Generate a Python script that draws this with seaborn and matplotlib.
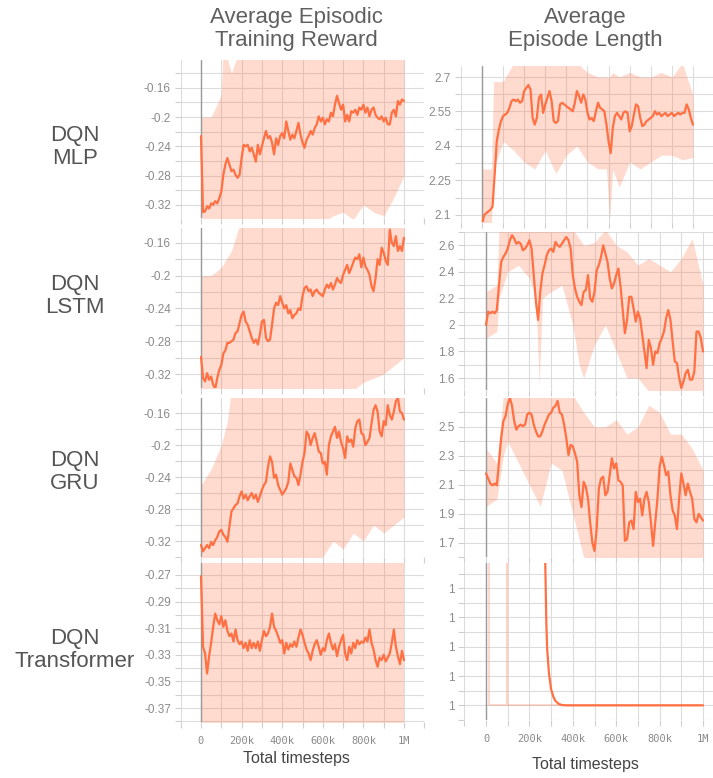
import numpy as np
import matplotlib
matplotlib.use("Agg")
import matplotlib.pyplot as plt
from matplotlib.ticker import MultipleLocator, FixedLocator, FuncFormatter
import seaborn as sns

# ---------------------------------------------------------------- data
STEPS = np.arange(0, 1_000_001, 10_000)   # logged timesteps (every 10k)

MLP_REWARD = [
    -0.226, -0.33, -0.329, -0.322, -0.325, -0.318, -0.32, -0.315, -0.318, -0.311,
    -0.302, -0.279, -0.265, -0.256, -0.265, -0.274, -0.272, -0.279, -0.283, -0.279,
    -0.256, -0.238, -0.24, -0.238, -0.247, -0.242, -0.251, -0.261, -0.238, -0.251,
    -0.24, -0.229, -0.219, -0.229, -0.226, -0.235, -0.251, -0.229, -0.238, -0.226,
    -0.222, -0.229, -0.206, -0.219, -0.231, -0.224, -0.229, -0.219, -0.208, -0.224,
    -0.235, -0.242, -0.231, -0.226, -0.219, -0.224, -0.215, -0.21, -0.199, -0.206,
    -0.201, -0.21, -0.203, -0.206, -0.194, -0.199, -0.183, -0.171, -0.181, -0.19,
    -0.183, -0.206, -0.197, -0.206, -0.192, -0.194, -0.19, -0.197, -0.187, -0.19,
    -0.183, -0.194, -0.187, -0.199, -0.19, -0.187, -0.197, -0.201, -0.203, -0.199,
    -0.206, -0.201, -0.21, -0.21, -0.194, -0.19, -0.199, -0.178, -0.183, -0.176,
    -0.178,
]
LSTM_REWARD = [
    -0.299, -0.325, -0.329, -0.319, -0.327, -0.323, -0.333, -0.338, -0.325, -0.315,
    -0.309, -0.295, -0.291, -0.282, -0.282, -0.28, -0.278, -0.27, -0.268, -0.258,
    -0.248, -0.244, -0.256, -0.26, -0.268, -0.276, -0.282, -0.278, -0.284, -0.272,
    -0.256, -0.254, -0.276, -0.28, -0.278, -0.26, -0.24, -0.233, -0.236, -0.225,
    -0.233, -0.24, -0.236, -0.246, -0.242, -0.252, -0.248, -0.246, -0.24, -0.242,
    -0.225, -0.215, -0.213, -0.219, -0.217, -0.225, -0.219, -0.217, -0.221, -0.223,
    -0.225, -0.217, -0.211, -0.215, -0.209, -0.217, -0.211, -0.203, -0.207, -0.209,
    -0.199, -0.193, -0.187, -0.197, -0.191, -0.184, -0.178, -0.18, -0.174, -0.19,
    -0.178, -0.189, -0.193, -0.199, -0.213, -0.219, -0.203, -0.18, -0.187, -0.166,
    -0.172, -0.182, -0.187, -0.144, -0.16, -0.164, -0.152, -0.17, -0.164, -0.17,
    -0.154,
]
GRU_REWARD = [
    -0.325, -0.333, -0.329, -0.325, -0.329, -0.321, -0.325, -0.319, -0.315, -0.308,
    -0.306, -0.312, -0.315, -0.321, -0.302, -0.283, -0.279, -0.275, -0.273, -0.264,
    -0.258, -0.267, -0.262, -0.269, -0.264, -0.26, -0.267, -0.262, -0.271, -0.264,
    -0.256, -0.25, -0.246, -0.227, -0.214, -0.221, -0.241, -0.237, -0.25, -0.256,
    -0.262, -0.258, -0.254, -0.246, -0.223, -0.231, -0.239, -0.241, -0.25, -0.237,
    -0.221, -0.21, -0.183, -0.187, -0.2, -0.191, -0.185, -0.196, -0.208, -0.21,
    -0.223, -0.221, -0.237, -0.2, -0.189, -0.183, -0.177, -0.191, -0.183, -0.196,
    -0.204, -0.216, -0.189, -0.196, -0.193, -0.202, -0.179, -0.17, -0.168, -0.185,
    -0.187, -0.2, -0.196, -0.191, -0.173, -0.156, -0.15, -0.158, -0.183, -0.189,
    -0.17, -0.175, -0.15, -0.162, -0.168, -0.158, -0.145, -0.141, -0.158, -0.16,
    -0.168,
]
TRANSFORMER_REWARD = [
    -0.271, -0.324, -0.329, -0.344, -0.331, -0.321, -0.309, -0.299, -0.304, -0.307,
    -0.301, -0.309, -0.304, -0.312, -0.316, -0.314, -0.32, -0.311, -0.319, -0.322,
    -0.32, -0.325, -0.321, -0.327, -0.319, -0.325, -0.321, -0.325, -0.32, -0.327,
    -0.319, -0.312, -0.316, -0.314, -0.309, -0.299, -0.309, -0.312, -0.316, -0.321,
    -0.319, -0.329, -0.321, -0.326, -0.322, -0.324, -0.32, -0.324, -0.317, -0.311,
    -0.315, -0.321, -0.326, -0.329, -0.334, -0.327, -0.322, -0.319, -0.324, -0.33,
    -0.325, -0.327, -0.319, -0.314, -0.321, -0.326, -0.322, -0.331, -0.324, -0.319,
    -0.315, -0.329, -0.334, -0.324, -0.329, -0.321, -0.325, -0.319, -0.322, -0.32,
    -0.321, -0.317, -0.32, -0.311, -0.321, -0.326, -0.334, -0.339, -0.332, -0.334,
    -0.33, -0.335, -0.332, -0.329, -0.321, -0.311, -0.324, -0.331, -0.337, -0.327,
    -0.334,
]
MLP_LENGTH = [
    2.056, 2.1, 2.107, 2.115, 2.122, 2.136, 2.275, 2.42, 2.471, 2.508,
    2.53, 2.537, 2.544, 2.566, 2.595, 2.602, 2.595, 2.602, 2.588, 2.595,
    2.639, 2.653, 2.665, 2.646, 2.522, 2.493, 2.522, 2.61, 2.624, 2.544,
    2.581, 2.61, 2.639, 2.595, 2.508, 2.5, 2.508, 2.581, 2.588, 2.581,
    2.573, 2.566, 2.559, 2.551, 2.588, 2.639, 2.617, 2.588, 2.624, 2.602,
    2.544, 2.515, 2.522, 2.508, 2.551, 2.588, 2.566, 2.559, 2.551, 2.493,
    2.42, 2.369, 2.479, 2.53, 2.544, 2.53, 2.515, 2.544, 2.551, 2.544,
    2.464, 2.486, 2.537, 2.581, 2.573, 2.522, 2.486, 2.493, 2.508, 2.515,
    2.522, 2.53, 2.551, 2.537, 2.544, 2.53, 2.537, 2.544, 2.53, 2.537,
    2.544, 2.53, 2.537, 2.544, 2.537, 2.544, 2.544, 2.581, 2.559, 2.522,
    2.493,
]
LSTM_LENGTH = [
    2.0, 2.1, 2.088, 2.1, 2.088, 2.112, 2.3, 2.475, 2.512, 2.537,
    2.575, 2.638, 2.675, 2.65, 2.612, 2.625, 2.612, 2.562, 2.575, 2.6,
    2.638, 2.575, 2.375, 2.175, 2.038, 2.25, 2.388, 2.45, 2.525, 2.562,
    2.575, 2.55, 2.625, 2.6, 2.588, 2.612, 2.638, 2.662, 2.638, 2.575,
    2.375, 2.275, 2.212, 2.175, 2.15, 2.25, 2.262, 2.375, 2.2, 2.175,
    2.25, 2.412, 2.45, 2.512, 2.6, 2.537, 2.475, 2.35, 2.275, 2.312,
    2.375, 2.425, 2.288, 2.112, 1.938, 2.038, 2.212, 2.212, 2.125, 2.025,
    2.1, 2.05, 1.925, 1.8, 1.675, 1.888, 1.825, 1.7, 1.8, 1.788,
    1.862, 1.9, 1.95, 2.05, 2.112, 2.038, 1.875, 1.725, 1.712, 1.6,
    1.525, 1.575, 1.638, 1.662, 1.588, 1.588, 1.65, 1.95, 1.95, 1.9,
    1.8,
]
GRU_LENGTH = [
    2.178, 2.143, 2.108, 2.096, 2.108, 2.096, 2.26, 2.423, 2.54, 2.575,
    2.656, 2.703, 2.645, 2.54, 2.481, 2.505, 2.516, 2.505, 2.516, 2.586,
    2.598, 2.586, 2.516, 2.47, 2.435, 2.435, 2.47, 2.516, 2.551, 2.586,
    2.598, 2.633, 2.645, 2.68, 2.598, 2.586, 2.516, 2.423, 2.306, 2.376,
    2.365, 2.318, 2.26, 2.027, 1.945, 2.12, 2.085, 2.003, 1.84, 1.7,
    1.642, 1.793, 2.073, 2.143, 2.155, 2.027, 2.05, 2.166, 2.283, 2.213,
    2.248, 2.131, 2.12, 2.096, 1.712, 1.723, 1.84, 1.852, 1.793, 2.05,
    1.98, 2.003, 1.887, 2.003, 2.05, 1.98, 1.84, 1.677, 1.84, 2.003,
    2.225, 2.295, 2.236, 2.166, 2.19, 2.027, 1.922, 1.887, 1.793, 2.003,
    2.178, 2.108, 2.027, 2.108, 2.05, 2.003, 1.863, 1.84, 1.898, 1.875,
    1.852,
]
# transformer episode length: smoothed curve collapses onto 1
TRANSFORMER_LENGTH_X = [265000, 273000, 278000, 282000, 290000, 300000, 310000,
                        320000, 335000, 350000, 370000, 1000000]
TRANSFORMER_LENGTH = [1.0008, 1.00049, 1.00028, 1.00019, 1.00011, 1.000055, 1.00003,
                      1.000015, 1.000005, 1.000001, 1.0, 1.0]
TRANSFORMER_LENGTH_RAW_X = [0, 15000, 15000, 95000, 95000, 97000, 97000, 1000000]
TRANSFORMER_LENGTH_RAW = [1.002, 1.002, 1.0, 1.0, 1.002, 1.002, 1.0, 1.0]

# spread of the raw (unsmoothed) curves: lower / upper envelopes
MLP_REWARD_BAND_X = [0, 50e3, 100e3, 110e3, 150e3, 200e3, 600e3, 650e3, 700e3,
                     750e3, 800e3, 850e3, 900e3, 950e3, 1e6]
MLP_REWARD_HI = [-0.2, -0.2, -0.17, -0.1, -0.14, -0.1, -0.1, -0.1, -0.1,
                 -0.1, -0.1, -0.1, -0.1, -0.1, -0.1]
MLP_REWARD_LO = [-0.35, -0.35, -0.35, -0.35, -0.35, -0.35, -0.345, -0.335, -0.33,
                 -0.34, -0.32, -0.33, -0.335, -0.31, -0.28]

LSTM_REWARD_BAND_X = [0, 50e3, 100e3, 150e3, 200e3, 250e3, 700e3, 750e3, 800e3,
                      850e3, 900e3, 950e3, 1e6]
LSTM_REWARD_HI = [-0.2, -0.2, -0.19, -0.17, -0.13, -0.13, -0.13, -0.13, -0.13,
                  -0.13, -0.13, -0.13, -0.13]
LSTM_REWARD_LO = [-0.35, -0.35, -0.35, -0.35, -0.35, -0.35, -0.35, -0.34, -0.33,
                  -0.325, -0.32, -0.31, -0.3]

GRU_REWARD_BAND_X = [0, 50e3, 100e3, 130e3, 150e3, 550e3, 600e3, 650e3, 700e3,
                     750e3, 800e3, 850e3, 900e3, 950e3, 1e6]
GRU_REWARD_HI = [-0.25, -0.23, -0.2, -0.17, -0.13, -0.13, -0.13, -0.13, -0.13,
                 -0.13, -0.13, -0.13, -0.13, -0.13, -0.13]
GRU_REWARD_LO = [-0.35, -0.35, -0.35, -0.35, -0.35, -0.35, -0.34, -0.32, -0.33,
                 -0.31, -0.32, -0.3, -0.31, -0.3, -0.29]

TRANSFORMER_REWARD_BAND_X = [0, 1e6]
TRANSFORMER_REWARD_HI = [-0.25, -0.25]
TRANSFORMER_REWARD_LO = [-0.39, -0.39]

MLP_LENGTH_BAND_X = [0, 45e3, 55e3, 100e3, 150e3, 200e3, 250e3, 300e3, 350e3, 400e3,
                     450e3, 500e3, 550e3, 590e3, 605e3, 620e3, 650e3, 700e3, 750e3,
                     800e3, 850e3, 900e3, 950e3, 1e6]
MLP_LENGTH_HI = [2.3, 2.3, 2.68, 2.68, 2.76, 2.76, 2.76, 2.76, 2.76, 2.76, 2.76, 2.72,
                 2.70, 2.70, 2.70, 2.72, 2.70, 2.72, 2.70, 2.70, 2.72, 2.70, 2.76, 2.62]
MLP_LENGTH_LO = [2.06, 2.06, 2.3, 2.42, 2.38, 2.33, 2.3, 2.38, 2.28, 2.36, 2.4, 2.33,
                 2.3, 2.3, 2.08, 2.3, 2.22, 2.33, 2.3, 2.33, 2.36, 2.36, 2.34, 2.35]

LSTM_LENGTH_BAND_X = [0, 50e3, 60e3, 100e3, 150e3, 200e3, 230e3, 245e3, 260e3, 300e3,
                      350e3, 400e3, 430e3, 450e3, 500e3, 550e3, 600e3, 650e3, 700e3,
                      750e3, 800e3, 850e3, 900e3, 950e3, 1e6]
LSTM_LENGTH_HI = [2.25, 2.3, 2.72, 2.72, 2.72, 2.72, 2.72, 2.72, 2.72, 2.72,
                  2.72, 2.72, 2.65, 2.6, 2.62, 2.72, 2.6, 2.55, 2.45,
                  2.5, 2.45, 2.4, 2.5, 2.65, 2.3]
LSTM_LENGTH_LO = [1.9, 1.95, 2.2, 2.4, 2.45, 2.35, 2.2, 1.55, 2.2, 2.25,
                  2.3, 2.0, 1.7, 1.6, 1.85, 2.0, 1.8, 1.6, 1.6,
                  1.5, 1.5, 1.5, 1.5, 1.5, 1.5]

GRU_LENGTH_BAND_X = [0, 50e3, 80e3, 100e3, 150e3, 200e3, 250e3, 300e3, 350e3, 400e3,
                     450e3, 500e3, 550e3, 600e3, 650e3, 700e3, 750e3, 800e3, 850e3,
                     900e3, 950e3, 1e6]
GRU_LENGTH_HI = [2.35, 2.25, 2.72, 2.72, 2.72, 2.72, 2.72, 2.72, 2.72, 2.72, 2.6,
                 2.5, 2.5, 2.55, 2.45, 2.5, 2.65, 2.6, 2.45, 2.45, 2.35, 2.2]
GRU_LENGTH_LO = [1.95, 2.0, 2.3, 2.4, 2.25, 2.1, 1.95, 2.25, 2.2, 1.9, 1.6,
                 1.58, 1.58, 1.58, 1.58, 1.58, 1.58, 1.58, 1.58, 1.58, 1.58, 1.58]

ROW_LABELS = ["DQN\nMLP", "DQN\nLSTM", "DQN\nGRU", "DQN\nTransformer"]
COL_TITLES = ["Average Episodic\nTraining Reward", "Average\nEpisode Length"]
REWARD_TICKS = [-0.32, -0.28, -0.24, -0.2, -0.16]
TRANSFORMER_REWARD_TICKS = [-0.37, -0.35, -0.33, -0.31, -0.29, -0.27]
MLP_LENGTH_TICKS = [2.1, 2.25, 2.4, 2.55, 2.7]
LSTM_LENGTH_TICKS = [1.6, 1.8, 2.0, 2.2, 2.4, 2.6]
GRU_LENGTH_TICKS = [1.7, 1.9, 2.1, 2.3, 2.5]
TRANSFORMER_LENGTH_TICKS = [1.0, 1.0001, 1.0002, 1.0003, 1.0004]

# ---------------------------------------------------------------- style
W, H = 713, 778
ORANGE = "#ff7043"
GRID = "#dcdcdc"

sns.set_theme(style="whitegrid")
plt.rcParams["font.family"] = ["Liberation Sans", "DejaVu Sans"]


def px_rect(x0, x1, y0, y1):
    """Axes rect from pixel box (origin top-left)."""
    return [x0 / W, 1 - y1 / H, (x1 - x0) / W, (y1 - y0) / H]


def tick_fmt(v, _):
    return f"{round(v, 4):g}"


def k_fmt(v, _):
    if abs(v) < 1:
        return "0"
    if v >= 1e6:
        return "1M"
    return f"{int(round(v / 1000))}k"


# (rect in px, xlim, ylim, yticks, smoothed (x, y), band (x, lo, hi))
panels = [
    (px_rect(180.7, 424.3, 60, 218), (-100e3, 1.1e6), (-0.338, -0.122), REWARD_TICKS,
     (STEPS, MLP_REWARD), (MLP_REWARD_BAND_X, MLP_REWARD_LO, MLP_REWARD_HI)),
    (px_rect(460.9, 713, 66, 222), (-100e3, 1.095e6), (2.069, 2.748), MLP_LENGTH_TICKS,
     (STEPS, MLP_LENGTH), (MLP_LENGTH_BAND_X, MLP_LENGTH_LO, MLP_LENGTH_HI)),
    (px_rect(180.7, 424.3, 228, 388), (-100e3, 1.1e6), (-0.337, -0.142), REWARD_TICKS,
     (STEPS, LSTM_REWARD), (LSTM_REWARD_BAND_X, LSTM_REWARD_LO, LSTM_REWARD_HI)),
    (px_rect(464.3, 713, 232, 390), (-100e3, 1.046e6), (1.51, 2.70), LSTM_LENGTH_TICKS,
     (STEPS, LSTM_LENGTH), (LSTM_LENGTH_BAND_X, LSTM_LENGTH_LO, LSTM_LENGTH_HI)),
    (px_rect(180.7, 424.3, 398, 557), (-100e3, 1.1e6), (-0.34, -0.141), REWARD_TICKS,
     (STEPS, GRU_REWARD), (GRU_REWARD_BAND_X, GRU_REWARD_LO, GRU_REWARD_HI)),
    (px_rect(464.3, 713, 398, 557), (-100e3, 1.046e6), (1.60, 2.70), GRU_LENGTH_TICKS,
     (STEPS, GRU_LENGTH), (GRU_LENGTH_BAND_X, GRU_LENGTH_LO, GRU_LENGTH_HI)),
    (px_rect(180.7, 424.3, 563, 722), (-100e3, 1.1e6), (-0.3805, -0.261),
     TRANSFORMER_REWARD_TICKS, (STEPS, TRANSFORMER_REWARD),
     (TRANSFORMER_REWARD_BAND_X, TRANSFORMER_REWARD_LO, TRANSFORMER_REWARD_HI)),
    (px_rect(464.3, 713, 563, 720), (-100e3, 1.046e6), (0.99995, 1.000486),
     TRANSFORMER_LENGTH_TICKS, (TRANSFORMER_LENGTH_X, TRANSFORMER_LENGTH), None),
]

fig = plt.figure(figsize=(W / 100, H / 100), dpi=100)

for i, (rect, xlim, ylim, yticks, (sx, sy), band) in enumerate(panels):
    ax = fig.add_axes(rect)
    bottom_row = i >= 6

    if band is not None:
        bx, lo, hi = band
        ax.fill_between(bx, lo, hi, color=ORANGE, alpha=0.26, lw=0, zorder=2)
    else:
        # raw transformer episode length: mostly flat at 1 with two early spikes
        sns.lineplot(x=TRANSFORMER_LENGTH_RAW_X, y=TRANSFORMER_LENGTH_RAW, ax=ax,
                     estimator=None, sort=False, color=ORANGE, alpha=0.3, lw=1.2, zorder=2)
    sns.lineplot(x=sx, y=sy, ax=ax, color=ORANGE, lw=1.6, zorder=3)
    ax.axvline(0, color="#9a9a9a", lw=1.0, zorder=2.5)

    ax.set_xlim(*xlim)
    ax.set_ylim(*ylim)
    ax.set_xlabel("")
    ax.set_ylabel("")

    step = yticks[1] - yticks[0]
    minor = [t + step / 2 for t in yticks] + [yticks[0] - step / 2]
    ax.yaxis.set_major_locator(FixedLocator(yticks))
    ax.yaxis.set_minor_locator(FixedLocator(minor))
    ax.xaxis.set_major_locator(MultipleLocator(200000))
    ax.xaxis.set_minor_locator(MultipleLocator(100000))
    if i == 7:
        ax.yaxis.set_major_formatter(FuncFormatter(lambda v, _: f"{v:.0f}"))
    else:
        ax.yaxis.set_major_formatter(FuncFormatter(tick_fmt))
    ax.xaxis.set_major_formatter(FuncFormatter(k_fmt))

    ax.grid(True, which="both", color=GRID, lw=0.8)
    ax.set_axisbelow(True)
    for s in ax.spines.values():
        s.set_visible(False)
    ax.tick_params(which="both", left=True, bottom=True, length=4, width=0.8,
                   color="#cfcfcf", direction="out")
    ax.tick_params(axis="y", labelsize=8.5, labelcolor="#8a8a8a", pad=3)
    ax.tick_params(axis="x", labelbottom=bottom_row, labelsize=7.5,
                   labelcolor="#8a8a8a", pad=6)
    for lab in ax.get_xticklabels():
        lab.set_family("DejaVu Sans Mono")

# column titles, row labels, x labels
fig.text(296 / W, 1 - 29 / H, COL_TITLES[0], ha="center", va="center",
         fontsize=16, color="#5f5f5f", linespacing=1.1)
fig.text(585 / W, 1 - 29 / H, COL_TITLES[1], ha="center", va="center",
         fontsize=16, color="#5f5f5f", linespacing=1.1)
for label, yc in zip(ROW_LABELS, [147, 296, 472, 650]):
    fig.text(75 / W, 1 - yc / H, label, ha="center", va="center",
             fontsize=16, color="#555555", linespacing=1.15)
fig.text(296 / W, 1 - 758 / H, "Total timesteps", ha="center", va="center",
         fontsize=11.5, color="#444444")
fig.text(585 / W, 1 - 765 / H, "Total timesteps", ha="center", va="center",
         fontsize=11.5, color="#444444")

plt.savefig("out.png", dpi=100)
plt.close()
